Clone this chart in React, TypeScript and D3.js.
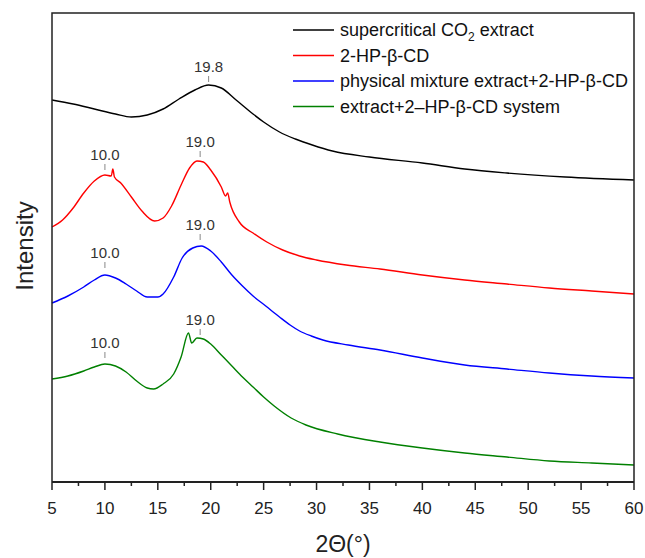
import React from 'react';
import * as d3 from 'd3';

const W = 645;
const H = 558;

// x-axis ticks
const xMajorTicks = [5, 10, 15, 20, 25, 30, 35, 40, 45, 50, 55, 60];
const xMinorTicks = [7.5, 12.5, 17.5, 22.5, 27.5, 32.5, 37.5, 42.5, 47.5, 52.5, 57.5];

// supercritical CO2 extract (black)
const blackTheta = [5, 7, 9, 11, 12.5, 14, 15.5, 17, 18.5, 19.8, 21, 22.4, 24, 25, 26.5, 28, 29.6, 31.5, 35, 40, 44, 48, 53.5, 60];
const blackInt = [382, 378, 373, 368, 365, 367, 373, 383, 392, 397, 394, 382, 368, 360, 350, 343, 337, 331, 325, 319, 313, 309, 305, 302];

// 2-HP-β-CD (red)
const redTheta = [5, 6, 7, 8, 9, 10, 10.6, 10.75, 10.9, 11.5, 12.5, 13.5, 14.7, 15.5, 16.3, 17.2, 18, 18.7, 19.3, 20, 21, 21.4, 21.6, 21.8, 22.7, 24, 25.3, 26.8, 28.4, 30, 32.8, 36, 40, 44, 48, 52, 56, 60];
const redInt = [255, 262, 274, 289, 301, 307, 306, 313, 305, 299, 285, 271, 261, 264, 276, 297, 314, 321, 320, 312, 295, 286, 289, 280, 260, 249, 240, 232, 226, 222, 217, 213, 207, 202, 198, 194, 191, 188];

// physical mixture extract+2-HP-β-CD (blue)
const blueTheta = [5, 6.5, 8, 9, 10, 11, 12, 13, 14, 15, 15.5, 16.5, 17.3, 18.3, 19.1, 20, 21, 22, 23, 24, 25.2, 26.5, 27.5, 28.4, 29.5, 30.6, 33, 36, 40, 44, 48, 52, 56, 60];
const blueInt = [179, 186, 195, 202, 207, 204, 198, 191, 185, 185, 188, 205, 224, 234, 236, 231, 220, 207, 196, 186, 176, 165, 157, 151, 146, 142, 137, 132, 124, 117, 113, 109, 106, 104];

// extract+2–HP-β-CD system (green)
const greenTheta = [5, 6.5, 8, 9, 10, 11, 12, 13, 14, 14.6, 15.5, 16.5, 17.2, 17.9, 18.2, 18.7, 19.3, 20, 21, 22, 23, 24, 25, 26, 27.6, 29, 32, 36, 40, 44, 48, 52, 56, 60];
const greenInt = [103, 106, 111, 115, 118, 116, 110, 101, 94, 93, 98, 108, 125, 149, 139, 144, 143, 138, 127, 116, 105, 95, 85, 76, 64, 57, 48, 40, 34, 29, 25, 21, 19, 17];

const seriesNames = [
  'supercritical CO2 extract',
  '2-HP-β-CD',
  'physical mixture extract+2-HP-β-CD',
  'extract+2–HP-β-CD system',
];
const seriesColors = ['#000000', '#ff0000', '#0000ff', '#008000'];
const seriesTheta = [blackTheta, redTheta, blueTheta, greenTheta];
const seriesInt = [blackInt, redInt, blueInt, greenInt];

// peak annotations: theta, intensity at tick bottom, text
const peakTheta = [19.8, 10.0, 19.0, 10.0, 19.0, 10.0, 19.0];
const peakInt = [400, 312, 325, 214, 242, 124, 147];
const peakText = ['19.8', '10.0', '19.0', '10.0', '19.0', '10.0', '19.0'];

const FONT = 'Liberation Sans, Arial, Helvetica, sans-serif';

export default function App() {
  const x = d3.scaleLinear().domain([5, 60]).range([52, 634]);
  const y = d3.scaleLinear().domain([0, 470]).range([482, 12]);
  const line = d3
    .line<[number, number]>()
    .x((d) => x(d[0]))
    .y((d) => y(d[1]))
    .curve(d3.curveMonotoneX);

  const plotTop = 13;
  const plotBottom = 482;
  const plotLeft = x(5);
  const plotRight = x(60);

  const legendX = 293;
  const legendY0 = 30;
  const legendDy = 25.5;

  return (
    <svg
      width={W}
      height={H}
      style={{ position: 'absolute', left: 0, top: 0, background: '#fff' }}
      fontFamily={FONT}
    >
      <rect x={0} y={0} width={W} height={H} fill="#fff" />
      {/* curves */}
      {seriesTheta.map((th, i) => (
        <path
          key={i}
          d={line(th.map((t, j) => [t, seriesInt[i][j]] as [number, number])) || ''}
          fill="none"
          stroke={seriesColors[i]}
          strokeWidth={1.4}
          strokeLinejoin="round"
        />
      ))}
      {/* peak labels */}
      {peakTheta.map((t, i) => {
        const px = x(t);
        const py = y(peakInt[i]);
        return (
          <g key={i}>
            <line x1={px} x2={px} y1={py} y2={py - 6} stroke="#888" strokeWidth={1} />
            <text x={px} y={py - 10} textAnchor="middle" fontSize={15} fill="#333">
              {peakText[i]}
            </text>
          </g>
        );
      })}
      {/* frame */}
      <path
        d={`M${plotLeft},${plotBottom}V${plotTop}H${plotRight}V${plotBottom}`}
        fill="none"
        stroke="#222"
        strokeWidth={1.5}
      />
      <line x1={plotLeft} x2={plotRight} y1={plotBottom} y2={plotBottom} stroke="#222" strokeWidth={2} />
      {/* x ticks */}
      {xMajorTicks.map((t) => (
        <g key={'M' + t}>
          <line x1={x(t)} x2={x(t)} y1={plotBottom} y2={plotBottom + 8} stroke="#222" strokeWidth={1.5} />
          <text x={x(t)} y={plotBottom + 32} textAnchor="middle" fontSize={17} fill="#222">
            {t}
          </text>
        </g>
      ))}
      {xMinorTicks.map((t) => (
        <line key={'m' + t} x1={x(t)} x2={x(t)} y1={plotBottom} y2={plotBottom + 4} stroke="#222" strokeWidth={1.5} />
      ))}
      {/* axis titles */}
      <text x={(plotLeft + plotRight) / 2} y={552} textAnchor="middle" fontSize={23} fill="#222">
        2Θ(°)
      </text>
      <text
        transform={`translate(33,246) rotate(-90)`}
        textAnchor="middle"
        fontSize={24}
        fill="#222"
      >
        Intensity
      </text>
      {/* legend */}
      {seriesNames.map((name, i) => {
        const ly = legendY0 + i * legendDy;
        return (
          <g key={name}>
            <line x1={legendX} x2={legendX + 41} y1={ly} y2={ly} stroke={seriesColors[i]} strokeWidth={1.3} />
            <text x={legendX + 47} y={ly + 6} fontSize={18} fill="#111">
              {i === 0 ? (
                <>
                  supercritical CO
                  <tspan fontSize={12} dy={5}>2</tspan>
                  <tspan dy={-5}> extract</tspan>
                </>
              ) : (
                name
              )}
            </text>
          </g>
        );
      })}
    </svg>
  );
}
